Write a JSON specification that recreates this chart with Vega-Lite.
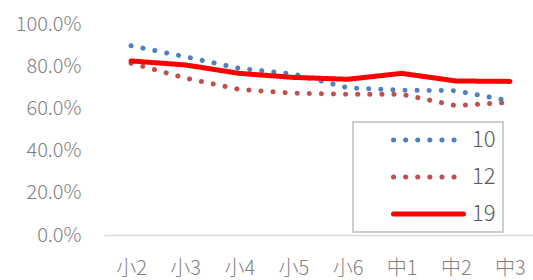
{
  "$schema": "https://vega.github.io/schema/vega-lite/v6.json",
  "width": 433,
  "height": 211,
  "autosize": "none",
  "padding": {"left": 104, "top": 24, "right": 0, "bottom": 45},
  "background": "white",
  "config": {
    "view": {"stroke": null},
    "font": "Noto Sans CJK JP"
  },
  "data": {
    "values": [
      {"grade": "小2", "series": "10", "value": 0.897},
      {"grade": "小3", "series": "10", "value": 0.845},
      {"grade": "小4", "series": "10", "value": 0.79},
      {"grade": "小5", "series": "10", "value": 0.763},
      {"grade": "小6", "series": "10", "value": 0.698},
      {"grade": "中1", "series": "10", "value": 0.686},
      {"grade": "中2", "series": "10", "value": 0.684},
      {"grade": "中3", "series": "10", "value": 0.635},
      {"grade": "小2", "series": "12", "value": 0.814},
      {"grade": "小3", "series": "12", "value": 0.744},
      {"grade": "小4", "series": "12", "value": 0.69},
      {"grade": "小5", "series": "12", "value": 0.672},
      {"grade": "小6", "series": "12", "value": 0.667},
      {"grade": "中1", "series": "12", "value": 0.667},
      {"grade": "中2", "series": "12", "value": 0.613},
      {"grade": "中3", "series": "12", "value": 0.629},
      {"grade": "小2", "series": "19", "value": 0.825},
      {"grade": "小3", "series": "19", "value": 0.806},
      {"grade": "小4", "series": "19", "value": 0.766},
      {"grade": "小5", "series": "19", "value": 0.747},
      {"grade": "小6", "series": "19", "value": 0.738},
      {"grade": "中1", "series": "19", "value": 0.766},
      {"grade": "中2", "series": "19", "value": 0.73},
      {"grade": "中3", "series": "19", "value": 0.728}
    ]
  },
  "mark": {"type": "line", "strokeCap": "round", "strokeJoin": "round"},
  "encoding": {
    "x": {
      "field": "grade",
      "type": "ordinal",
      "sort": ["小2", "小3", "小4", "小5", "小6", "中1", "中2", "中3"],
      "scale": {"type": "point", "padding": 0.5},
      "axis": {
        "title": null,
        "labelAngle": 0,
        "ticks": false,
        "domainColor": "#d9d9d9",
        "domainWidth": 1.5,
        "labelFontSize": 20,
        "labelFontWeight": 300,
        "labelColor": "#7f7f7f",
        "labelPadding": 23,
        "grid": false
      }
    },
    "y": {
      "field": "value",
      "type": "quantitative",
      "scale": {"domain": [0, 1], "nice": false},
      "axis": {
        "title": null,
        "format": ".1%",
        "values": [0, 0.2, 0.4, 0.6, 0.8, 1],
        "domain": false,
        "ticks": false,
        "grid": false,
        "labelFontSize": 20,
        "labelFontWeight": 300,
        "labelColor": "#7f7f7f",
        "labelPadding": 23
      }
    },
    "color": {
      "field": "series",
      "type": "nominal",
      "scale": {"domain": ["10", "12", "19"], "range": ["#4f81bd", "#c0504d", "#ff0000"]},
      "legend": {
        "title": null,
        "orient": "none",
        "legendX": 249,
        "legendY": 98,
        "strokeColor": "#bfbfbf",
        "fillColor": "white",
        "padding": 7,
        "symbolOffset": 31,
        "symbolType": "stroke",
        "symbolSize": 4900,
        "symbolStrokeWidth": 5,
        "clipHeight": 22,
        "labelFontSize": 22,
        "labelFontWeight": 300,
        "labelColor": "#595959",
        "labelOffset": 6,
        "rowPadding": 15,
        "labelExpr": "datum.label + '\u00a0\u00a0\u00a0\u00a0\u00a0\u00a0'",
        "encode": {
          "symbols": {"update": {"strokeCap": {"value": "round"}}},
          "legend": {"update": {"strokeWidth": {"value": 1.5}}}
        }
      }
    },
    "strokeDash": {
      "field": "series",
      "type": "nominal",
      "scale": {"domain": ["10", "12", "19"], "range": [[0.1, 12], [0.1, 12], [1, 0]]},
      "legend": null
    },
    "strokeWidth": {
      "field": "series",
      "type": "nominal",
      "scale": {"domain": ["10", "12", "19"], "range": [5, 5, 6]},
      "legend": null
    },
    "order": {"field": "series"}
  }
}
